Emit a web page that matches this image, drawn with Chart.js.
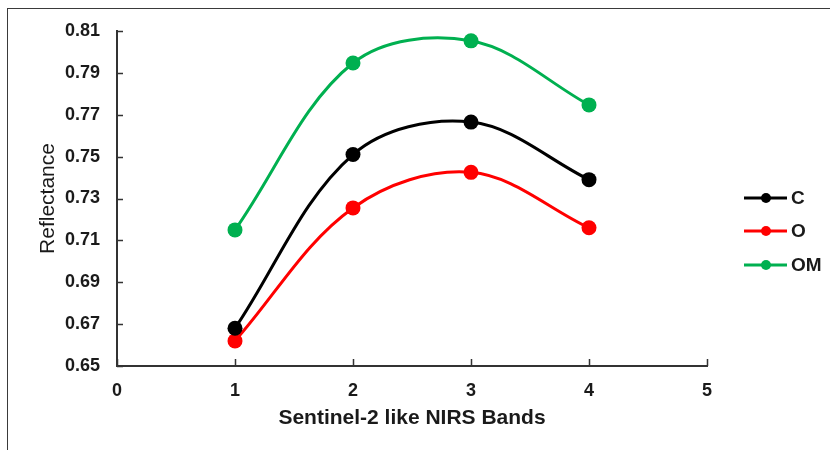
<!DOCTYPE html>
<html>
<head>
<meta charset="utf-8">
<script src="https://cdn.jsdelivr.net/npm/chart.js@4"></script>
<style>
  html, body { margin: 0; padding: 0; background: #fff; overflow: hidden; }
  #wrap { position: relative; width: 830px; height: 450px; }
  #frame { position: absolute; left: 7px; top: 8px; width: 900px; height: 500px; border: 1px solid #3a3a3a; box-sizing: border-box; }
  canvas { position: absolute; left: 0; top: 0; }
</style>
</head>
<body>
<div id="wrap">
  <div id="frame"></div>
  <canvas id="chart" width="830" height="450"></canvas>
</div>
<script>
  // Data
  const bands = [1, 2, 3, 4];
  const seriesNames = ['C', 'O', 'OM'];
  const valuesC = [0.668, 0.751, 0.7665, 0.739];
  const valuesO = [0.662, 0.7255, 0.7425, 0.716];
  const valuesOM = [0.715, 0.7947, 0.8053, 0.7747];
  const seriesColors = ['#000000', '#ff0000', '#00b050'];
  const yTicks = [0.65, 0.67, 0.69, 0.71, 0.73, 0.75, 0.77, 0.79, 0.81];
  const xTicks = [0, 1, 2, 3, 4, 5];

  const allValues = [valuesC, valuesO, valuesOM];
  const FONT = "'Liberation Sans', Arial, sans-serif";

  function makeDataset(i) {
    return {
      label: seriesNames[i],
      data: bands.map((b, j) => ({ x: b, y: allValues[i][j] })),
      borderColor: seriesColors[i],
      backgroundColor: seriesColors[i],
      borderWidth: 3,
      pointRadius: 7.5,
      pointHoverRadius: 7.5,
      pointBorderWidth: 0,
      tension: 0.35,
      fill: false
    };
  }

  // inward tick marks like the original
  const innerTicks = {
    id: 'innerTicks',
    afterDatasetsDraw(chart) {
      const ctx = chart.ctx;
      const xs = chart.scales.x, ys = chart.scales.y;
      ctx.save();
      ctx.strokeStyle = '#333';
      ctx.lineWidth = 1.5;
      ctx.beginPath();
      xTicks.forEach(v => {
        const px = Math.round(xs.getPixelForValue(v)) + 0.5;
        ctx.moveTo(px, ys.bottom);
        ctx.lineTo(px, ys.bottom - 7);
      });
      yTicks.forEach(v => {
        const py = Math.round(ys.getPixelForValue(v)) + 0.5;
        ctx.moveTo(xs.left, py);
        ctx.lineTo(xs.left + 6, py);
      });
      ctx.stroke();
      ctx.restore();
    }
  };

  // legend on the right: line + marker + label
  const sideLegend = {
    id: 'sideLegend',
    afterDraw(chart) {
      const ctx = chart.ctx;
      const rows = [198, 231, 265];
      ctx.save();
      chart.data.datasets.forEach((ds, i) => {
        const y = rows[i];
        ctx.strokeStyle = ds.borderColor;
        ctx.fillStyle = ds.borderColor;
        ctx.lineWidth = 3;
        ctx.beginPath();
        ctx.moveTo(744, y);
        ctx.lineTo(787, y);
        ctx.stroke();
        ctx.beginPath();
        ctx.arc(766, y, 5, 0, Math.PI * 2);
        ctx.fill();
        ctx.fillStyle = '#1a1a1a';
        ctx.font = 'bold 19px ' + FONT;
        ctx.textAlign = 'left';
        ctx.textBaseline = 'middle';
        ctx.fillText(ds.label, 791, y + 1);
      });
      ctx.restore();
    }
  };

  new Chart(document.getElementById('chart'), {
    type: 'line',
    data: { datasets: [0, 1, 2].map(makeDataset) },
    plugins: [innerTicks, sideLegend],
    options: {
      responsive: false,
      animation: false,
      devicePixelRatio: 1,
      layout: { padding: { top: 31, right: 123, left: 0, bottom: 0 } },
      plugins: { legend: { display: false }, tooltip: { enabled: false } },
      scales: {
        x: {
          type: 'linear',
          min: 0,
          max: 5,
          afterBuildTicks: s => { s.ticks = xTicks.map(v => ({ value: v })); },
          afterFit: s => { s.height = 84; },
          grid: { display: false, drawTicks: false },
          border: { display: true, color: '#333', width: 2 },
          ticks: { padding: 14, color: '#1a1a1a', font: { family: FONT, size: 18, weight: 'bold' } },
          title: {
            display: true,
            text: 'Sentinel-2 like NIRS Bands',
            color: '#1a1a1a',
            font: { family: FONT, size: 21, weight: 'bold' },
            padding: { top: 0, bottom: 19 }
          }
        },
        y: {
          type: 'linear',
          min: 0.65,
          max: 0.81,
          afterBuildTicks: s => { s.ticks = yTicks.map(v => ({ value: v })); },
          afterFit: s => { s.width = 117; },
          grid: { display: false, drawTicks: false },
          border: { display: true, color: '#333', width: 2 },
          ticks: {
            padding: 17,
            color: '#1a1a1a',
            font: { family: FONT, size: 18, weight: 'bold' },
            callback: v => Number(v).toFixed(2)
          },
          title: {
            display: true,
            text: 'Reflectance',
            color: '#1a1a1a',
            font: { family: FONT, size: 21 },
            padding: { top: 36, bottom: 0 }
          }
        }
      }
    }
  });
</script>
</body>
</html>
